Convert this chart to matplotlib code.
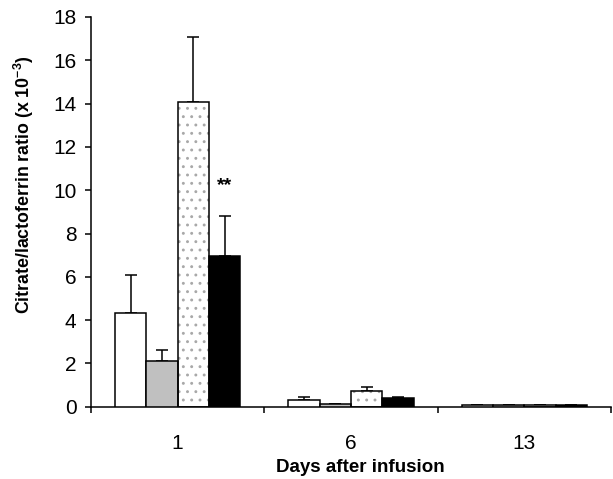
import matplotlib
matplotlib.use("Agg")
import matplotlib.pyplot as plt
import numpy as np

plt.rcParams['font.family'] = ['Liberation Sans', 'DejaVu Sans']
plt.rcParams['mathtext.default'] = 'regular'
plt.rcParams['hatch.linewidth'] = 0.9

days = ["1", "6", "13"]
white_vals = [4.35, 0.32, 0.07]
white_err = [1.75, 0.14, 0.0]
gray_vals = [2.09, 0.14, 0.07]
gray_err = [0.54, 0.0, 0.0]
dot_vals = [14.09, 0.74, 0.07]
dot_err = [2.97, 0.18, 0.0]
black_vals = [6.94, 0.40, 0.07]
black_err = [1.89, 0.06, 0.0]

fig = plt.figure(figsize=(6.13, 4.79), dpi=100)
ax = fig.add_axes([91 / 613, 1 - 406.7 / 479, 520 / 613, 389.7 / 479])

x = np.arange(len(days))
w = 0.181
offs = [-1.5 * w, -0.5 * w, 0.5 * w, 1.5 * w]

series = [
    (white_vals, white_err, 'white', None),
    (gray_vals, gray_err, '#c0c0c0', None),
    (dot_vals, dot_err, 'white', '..'),
    (black_vals, black_err, 'black', None),
]

for (vals, err, fc, hatch), o in zip(series, offs):
    xs = x + o
    if hatch:
        ax.bar(xs, vals, w, color='white', edgecolor='#a8a8a8', hatch=hatch, linewidth=0, zorder=2)
        ax.bar(xs, vals, w, fill=False, edgecolor='black', linewidth=1.1, zorder=3)
    else:
        ax.bar(xs, vals, w, color=fc, edgecolor='black', linewidth=1.1, zorder=3)
    yerr = np.vstack([np.zeros(len(err)), err])
    ax.errorbar(xs, vals, yerr=yerr, fmt='none', ecolor='black', elinewidth=1.1,
                capsize=4, capthick=1.1, zorder=1)

ax.text(x[0] + offs[3], 10.2, "**", ha='center', va='center', fontsize=14, fontweight='bold')

ax.set_xlim(-0.5, 2.5)
ax.set_ylim(0, 18)
ax.set_yticks(np.arange(0, 19, 2))
ax.set_xticks(x)
ax.set_xticklabels(days)
ax.set_xticks([-0.5, 0.5, 1.5, 2.5], minor=True)
ax.tick_params(axis='x', which='major', length=0, labelsize=15, pad=20)
ax.tick_params(axis='x', which='minor', length=4.5, width=1.1, direction='out')
ax.tick_params(axis='y', length=4.5, width=1.1, direction='out', labelsize=15, pad=6)

for s in ['top', 'right']:
    ax.spines[s].set_visible(False)
for s in ['left', 'bottom']:
    ax.spines[s].set_linewidth(1.1)

ax.set_xlabel("Days after infusion", fontsize=13.5, fontweight='bold')
ax.xaxis.set_label_coords(0.517, -0.135)
ax.set_ylabel("Citrate/lactoferrin ratio (x 10$^{-3}$)", fontsize=12.8, fontweight='bold')
ax.yaxis.set_label_coords(-0.106, 0.57)

fig.savefig("out.png", dpi=100)
